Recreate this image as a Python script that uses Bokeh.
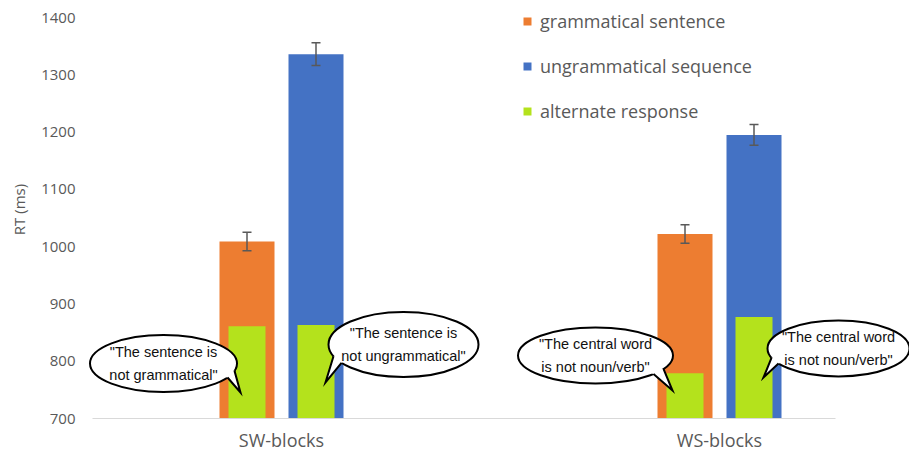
import math
from bokeh.plotting import figure
from bokeh.models import (ColumnDataSource, Whisker, TeeHead, FixedTicker, Legend,
                          LegendItem, Range1d)
from bokeh.core.properties import value
from bokeh.embed import file_html
from bokeh.resources import INLINE

# ---------------- data ----------------
categories = ["SW-blocks", "WS-blocks"]
grammatical = [1009, 1022]
grammatical_err = [16, 16]
ungrammatical = [1336, 1195]
ungrammatical_err = [20, 18]
alternate_in_grammatical = [861, 779]
alternate_in_ungrammatical = [863, 877]
y_ticks = [700, 800, 900, 1000, 1100, 1200, 1300, 1400]
series_labels = ["grammatical sentence", "ungrammatical sequence", "alternate response"]
bubble_texts = ['"The sentence is\nnot grammatical"',
                '"The sentence is\nnot ungrammatical"',
                '"The central word\nis not noun/verb"',
                '"The central word\nis not noun/verb"']

# ---------------- layout / style ----------------
W, H = 909, 455
BORDER_L, BORDER_R, BORDER_T, BORDER_B = 84, 0, 0, 37
FRAME_W = W - BORDER_L - BORDER_R
FRAME_H = H - BORDER_T - BORDER_B
PX_PER_X = 438.0
PX_PER_Y = 401.0 / 700.0
X_START = -(281.0 - BORDER_L) / PX_PER_X
X_END = X_START + FRAME_W / PX_PER_X
AXIS_X_START = X_START + 8.0 / PX_PER_X
AXIS_X_END = 1 + 116.0 / PX_PER_X
Y_BASE = 700
Y_END = Y_BASE + FRAME_H / PX_PER_Y

ORANGE = "#ED7D31"
BLUE = "#4472C4"
GREEN = "#B4E21C"
GREY_TEXT = "#595959"
BAR_OFF = 34.5 / PX_PER_X
BAR_W = 55 / PX_PER_X
GREEN_W = 37 / PX_PER_X

p = figure(width=W, height=H, output_backend="svg", toolbar_location=None,
           x_range=Range1d(X_START, X_END), y_range=Range1d(Y_BASE, Y_END),
           min_border_left=BORDER_L, min_border_right=BORDER_R,
           min_border_top=BORDER_T, min_border_bottom=BORDER_B)
p.outline_line_color = None
p.grid.visible = False
p.background_fill_color = "white"
p.border_fill_color = "white"

idx = list(range(len(categories)))
src_g = ColumnDataSource(dict(
    x=[i - BAR_OFF for i in idx], top=grammatical,
    upper=[v + e for v, e in zip(grammatical, grammatical_err)],
    lower=[v - e for v, e in zip(grammatical, grammatical_err)]))
src_u = ColumnDataSource(dict(
    x=[i + BAR_OFF for i in idx], top=ungrammatical,
    upper=[v + e for v, e in zip(ungrammatical, ungrammatical_err)],
    lower=[v - e for v, e in zip(ungrammatical, ungrammatical_err)]))
src_a = ColumnDataSource(dict(
    x=[i - BAR_OFF for i in idx] + [i + BAR_OFF for i in idx],
    top=alternate_in_grammatical + alternate_in_ungrammatical))

r_g = p.vbar(x="x", top="top", bottom=Y_BASE, width=BAR_W, source=src_g,
             fill_color=ORANGE, line_color=None)
r_u = p.vbar(x="x", top="top", bottom=Y_BASE, width=BAR_W, source=src_u,
             fill_color=BLUE, line_color=None)
r_a = p.vbar(x="x", top="top", bottom=Y_BASE, width=GREEN_W, source=src_a,
             fill_color=GREEN, line_color=None)

for s in (src_g, src_u):
    wk = Whisker(source=s, base="x", upper="upper", lower="lower",
                 line_color=GREY_TEXT, line_width=1.5, level="annotation",
                 upper_head=TeeHead(size=9, line_color=GREY_TEXT, line_width=1.5),
                 lower_head=TeeHead(size=9, line_color=GREY_TEXT, line_width=1.5))
    p.add_layout(wk)

# ---------------- speech bubbles ----------------
bubble_cat = [0, 0, 1, 1]
bubble_side = [-1, 1, -1, 1]
bubble_dx_px = [-83.5, 87.5, -89.5, 84.5]
bubble_h_above_base_px = [55, 74, 63, 70]
bubble_w = [147, 150, 155, 142]
bubble_h = [57, 65, 56, 56]
tail_base_dx = [(64, 71), (-62, -70), (58, 68), (-60, -67)]
tail_tip = [(77, 29), (-78, 38), (77, 35), (-75, 29)]

bx, by = [], []
for c, sd, dx, hy in zip(bubble_cat, bubble_side, bubble_dx_px, bubble_h_above_base_px):
    bx.append(c + sd * BAR_OFF + dx / PX_PER_X)
    by.append(Y_BASE + hy / PX_PER_Y)

p.ellipse(x=bx, y=by, width=bubble_w, height=bubble_h,
          width_units="screen", height_units="screen",
          fill_color="white", line_color="black", line_width=2)

patch_xs, patch_ys, line_xs, line_ys = [], [], [], []
for x0, y0, w, h, bases, tip in zip(bx, by, bubble_w, bubble_h, tail_base_dx, tail_tip):
    a, b = w / 2.0, h / 2.0
    pts = []
    for dx in bases:
        dy = b * math.sqrt(max(0.0, 1 - (dx / a) ** 2))
        pts.append((dx, dy))
    (d1x, d1y), (d2x, d2y) = pts
    tx, ty = tip

    def to_data(px, py, x0=x0, y0=y0):
        return x0 + px / PX_PER_X, y0 - py / PX_PER_Y
    poly = [(d1x * 0.85, d1y * 0.85), (d1x, d1y), (tx, ty), (d2x, d2y), (d2x * 0.85, d2y * 0.85)]
    pd = [to_data(*q) for q in poly]
    patch_xs.append([q[0] for q in pd])
    patch_ys.append([q[1] for q in pd])
    ld = [to_data(d1x, d1y), to_data(tx, ty), to_data(d2x, d2y)]
    line_xs.append([q[0] for q in ld])
    line_ys.append([q[1] for q in ld])

p.patches(xs=patch_xs, ys=patch_ys, fill_color="white", line_color=None)
p.multi_line(xs=line_xs, ys=line_ys, line_color="black", line_width=2, line_join="miter")

p.text(x=bx, y=by, text=bubble_texts, text_font=value("Liberation Sans"),
       text_font_size="14.5px", text_color="#111111", text_align="center",
       text_baseline="middle", text_line_height=1.38)

# ---------------- axes ----------------
p.yaxis.ticker = FixedTicker(ticks=y_ticks)
p.yaxis.axis_line_color = None
p.yaxis.major_tick_line_color = None
p.yaxis.minor_tick_line_color = None
p.yaxis.major_tick_out = 0
p.yaxis.major_tick_in = 0
p.yaxis.major_label_standoff = 9
p.yaxis.major_label_text_font = "Open Sans"
p.yaxis.major_label_text_font_size = "15px"
p.yaxis.major_label_text_color = GREY_TEXT
p.yaxis.axis_label = "RT (ms)"
p.yaxis.axis_label_text_font = "Open Sans"
p.yaxis.axis_label_text_font_size = "15px"
p.yaxis.axis_label_text_font_style = "normal"
p.yaxis.axis_label_text_color = GREY_TEXT
p.yaxis.axis_label_standoff = 9

p.xaxis.ticker = FixedTicker(ticks=idx)
p.xaxis.bounds = (AXIS_X_START, AXIS_X_END)
p.xaxis.major_label_overrides = {i: c for i, c in zip(idx, categories)}
p.xaxis.axis_line_color = "#D9D9D9"
p.xaxis.axis_line_width = 1
p.xaxis.major_tick_line_color = None
p.xaxis.minor_tick_line_color = None
p.xaxis.major_tick_out = 0
p.xaxis.major_tick_in = 0
p.xaxis.major_label_standoff = 9
p.xaxis.major_label_text_font = "Open Sans"
p.xaxis.major_label_text_font_size = "18px"
p.xaxis.major_label_text_color = GREY_TEXT

# ---------------- legend ----------------
legend = Legend(items=[LegendItem(label=series_labels[0], renderers=[r_g]),
                       LegendItem(label=series_labels[1], renderers=[r_u]),
                       LegendItem(label=series_labels[2], renderers=[r_a])],
                location=(522 - BORDER_L, FRAME_H - 9 - 114),
                border_line_color=None, background_fill_alpha=0,
                padding=0, margin=0, spacing=21,
                glyph_width=10, glyph_height=10, label_height=20,
                label_standoff=8, label_text_font="Open Sans",
                label_text_font_size="18px", label_text_color=GREY_TEXT)
p.add_layout(legend)

open("out.html", "w").write(file_html(p, INLINE))
